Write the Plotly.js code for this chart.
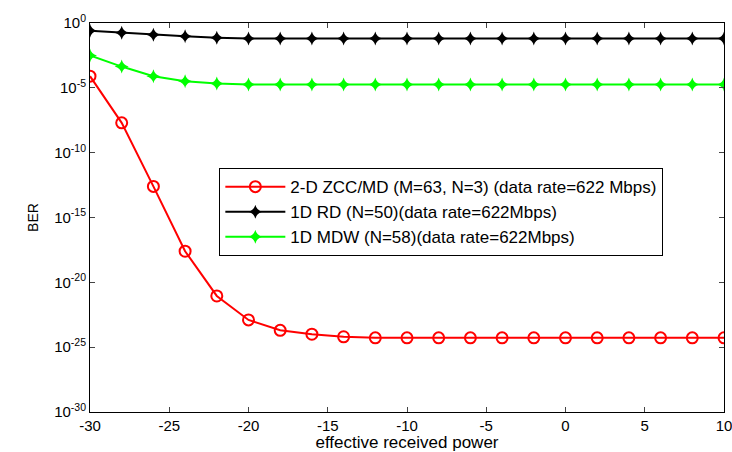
<!DOCTYPE html>
<html><head><meta charset="utf-8">
<script src="https://cdn.plot.ly/plotly-3.0.1.min.js"></script>
<style>body{margin:0;background:#fff}#c{width:732px;height:452px}</style>
</head><body><div id="c"></div>
<script>
const xPower = [-30,-28,-26,-24,-22,-20,-18,-16,-14,-12,-10,-8,-6,-4,-2,0,2,4,6,8,10];
const logZCC = [-4.1,-7.7,-12.6,-17.6,-21.05,-22.9,-23.7,-24.0,-24.2,-24.28,-24.28,-24.28,-24.28,-24.28,-24.28,-24.28,-24.28,-24.28,-24.28,-24.28,-24.28];
const logRD = [-0.59,-0.75,-0.9,-1.03,-1.13,-1.2,-1.2,-1.2,-1.2,-1.2,-1.2,-1.2,-1.2,-1.2,-1.2,-1.2,-1.2,-1.2,-1.2,-1.2,-1.2];
const logMDW = [-2.5,-3.36,-4.1,-4.49,-4.67,-4.74,-4.74,-4.74,-4.74,-4.74,-4.74,-4.74,-4.74,-4.74,-4.74,-4.74,-4.74,-4.74,-4.74,-4.74,-4.74];
const names = ["2-D ZCC/MD (M=63, N=3) (data rate=622 Mbps)","1D RD (N=50)(data rate=622Mbps)","1D MDW (N=58)(data rate=622Mbps)"];
const yTickExp = [0,-5,-10,-15,-20,-25,-30];
const xTicks = [-30,-25,-20,-15,-10,-5,0,5,10];

const toBer = a => a.map(v => Math.pow(10, v));
const traces = [
  {x:xPower, y:toBer(logZCC), name:names[0], mode:'lines+markers', line:{color:'#ff0000',width:2},
   marker:{symbol:'circle-open',size:11,color:'#ff0000',line:{width:2}}},
  {x:xPower, y:toBer(logRD), name:names[1], mode:'lines+markers', line:{color:'#000000',width:2},
   marker:{symbol:'star-diamond',size:10,color:'#000000'}},
  {x:xPower, y:toBer(logMDW), name:names[2], mode:'lines+markers', line:{color:'#00ff00',width:2},
   marker:{symbol:'star-diamond',size:10,color:'#00ff00'}}
];
const fam = 'Arial, Liberation Sans, sans-serif';
const tickFont = {family:fam, size:15, color:'#000'};
const layout = {
  width:732, height:452, paper_bgcolor:'#fff', plot_bgcolor:'#fff',
  margin:{l:90,r:8,t:23,b:40},
  font:tickFont, showlegend:true,
  xaxis:{range:[-30,10], tickvals:xTicks, ticktext:xTicks.map(String), ticks:'inside', ticklen:5,
    mirror:'allticks', showline:true, linecolor:'#000', linewidth:1, showgrid:false, zeroline:false,
    tickfont:tickFont, ticklabeloverflow:'allow',
    title:{text:'effective received power', font:{family:fam,size:17,color:'#000'}, standoff:1}},
  yaxis:{type:'log', range:[-30,0], tickvals:yTickExp.map(e=>Math.pow(10,e)),
    ticktext:yTickExp.map(e=>'10<sup>'+e+'</sup>'), ticks:'inside', ticklen:5,
    mirror:'allticks', showline:true, linecolor:'#000', linewidth:1, showgrid:false, zeroline:false,
    tickfont:tickFont,
    title:{text:'BER', font:{family:fam,size:14,color:'#000'}, standoff:12}},
  legend:{x:0.204, y:0.627, xanchor:'left', yanchor:'top', bgcolor:'#fff', bordercolor:'#000', borderwidth:1,
    font:{family:fam, size:17, color:'#000'}, tracegroupgap:0, itemwidth:60}
};
Plotly.newPlot('c', traces, layout, {displayModeBar:false, staticPlot:true});
</script></body></html>
